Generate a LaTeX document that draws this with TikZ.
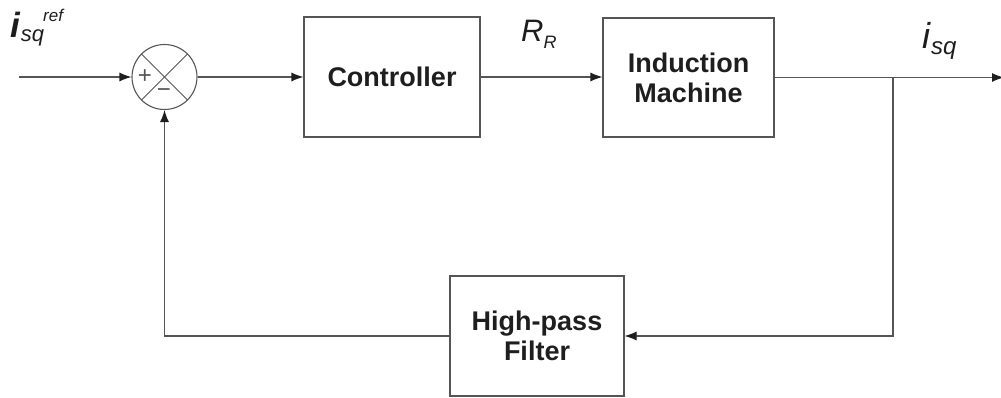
\documentclass[tikz,border=0pt]{standalone}
\usepackage{fontspec}
\setmainfont{Liberation Sans}
\usepackage{tikz}
\usetikzlibrary{arrows.meta,positioning,calc}
\definecolor{cdLine}{RGB}{85,85,85}
\definecolor{cdText}{RGB}{30,30,30}

\begin{document}
\begin{tikzpicture}[
  x=1pt, y=-1pt,
  block/.style={draw=cdLine, line width=1.1pt, align=center, inner sep=0pt, text=cdText,
    font=\fontsize{27}{30}\selectfont\bfseries},
  sumnode/.style={draw=cdLine, line width=1.1pt, circle, minimum size=65pt, inner sep=0pt},
  arr/.style={-{Latex[length=12pt,width=9pt,color=cdText]}, draw=cdLine, line width=1.1pt},
  sig/.style={inner sep=0pt, anchor=base west, text=cdText},
  sgn/.style={inner sep=0pt, text=cdLine, font=\fontsize{24}{24}\selectfont}
]
\useasboundingbox (0,0) rectangle (1001,398);

% Blocks
\node[sumnode] (sum) at (164.5,77) {};
\node[block, minimum width=176pt, minimum height=120pt] (ctrl) at (392,77) {Controller};
\node[block, minimum width=171pt, minimum height=119pt] (im) at (688.5,77.5) {Induction\\Machine};
\node[block, minimum width=174pt, minimum height=120pt] (filt) at (537,336) {High-pass\\Filter};

% Summing junction marks
\draw[cdLine, line width=1pt] (sum.north west) -- (sum.south east);
\draw[cdLine, line width=1pt] (sum.north east) -- (sum.south west);
\node[sgn] (plus) at (145,77) {+};
\node[sgn] (minus) at (164,93) {−};

% Signal labels
\node[sig] (iref) at (10,38) {{\fontsize{35}{35}\selectfont\bfseries\itshape i}\kern1pt\raisebox{-4pt}{\fontsize{22}{22}\selectfont\itshape sq}\kern-1pt\raisebox{16pt}{\fontsize{17}{17}\selectfont\itshape ref}};
\node[sig] (rr) at (521,42) {{\fontsize{31}{31}\selectfont\itshape R}\raisebox{-7pt}{\fontsize{18}{18}\selectfont\itshape R}};
\node[sig] (isq) at (922,49) {{\fontsize{36}{36}\selectfont\itshape i}\kern1pt\raisebox{-6pt}{\fontsize{24}{24}\selectfont\itshape sq}};

% Free ends
\coordinate (in) at (19,77);
\coordinate (out) at (1004,77.5);
\coordinate (tap) at (893,77.5);

% Arrows
\draw[arr] (in) -- (sum);
\draw[arr] (sum) -- (ctrl);
\draw[arr] (ctrl) -- (ctrl -| im.west);
\draw[arr] (im) -- (out);
\draw[arr] (tap) |- (filt);
\draw[arr] (filt) -| (sum);

\end{tikzpicture}
\end{document}
